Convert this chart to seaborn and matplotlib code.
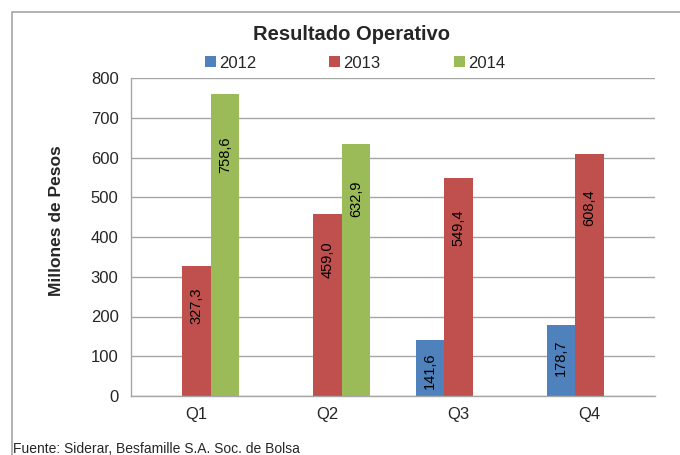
import numpy as np
import pandas as pd
import matplotlib
matplotlib.use("Agg")
import matplotlib.pyplot as plt
from matplotlib.patches import Rectangle
import seaborn as sns

# --- data ---
quarters = ["Q1", "Q2", "Q3", "Q4"]
years = ["2012", "2013", "2014"]
v2012 = [np.nan, np.nan, 141.6, 178.7]
v2013 = [327.3, 459.0, 549.4, 608.4]
v2014 = [758.6, 632.9, np.nan, np.nan]
colors = ["#4F81BD", "#C0504D", "#9BBB59"]

df = pd.DataFrame({
    "quarter": quarters * 3,
    "year": [y for y in years for _ in quarters],
    "value": v2012 + v2013 + v2014,
})

sns.set_style("white")
plt.rcParams["font.family"] = ["Liberation Sans", "DejaVu Sans"]

fig = plt.figure(figsize=(6.8, 4.55), dpi=100)
ax = fig.add_axes([131 / 680, 59 / 455, 524 / 680, 318 / 455])

sns.barplot(data=df, x="quarter", y="value", hue="year", hue_order=years,
            palette=colors, width=0.65, errorbar=None, saturation=1,
            linewidth=0, ax=ax, legend=True)

# value labels, rotated, inside the top of each bar
for cont in ax.containers:
    for bar in cont:
        h = bar.get_height()
        if not np.isfinite(h) or h <= 0:
            continue
        ax.text(bar.get_x() + bar.get_width() / 2, h * 0.88 - 15,
                f"{h:.1f}".replace(".", ","), rotation=90,
                ha="center", va="top", fontsize=10.5, color="black")

ax.set_ylim(0, 800)
ax.set_yticks(range(0, 801, 100))
ax.set_xlabel("")
ax.set_ylabel("")
ax.tick_params(axis="y", labelsize=12, length=5, color="#A6A6A6", pad=4)
ax.tick_params(axis="x", labelsize=12, length=0, pad=8)
ax.set_xticks([-0.5, 0.5, 1.5, 2.5, 3.5], minor=True)
ax.tick_params(axis="x", which="minor", length=5, color="#A6A6A6")

ax.yaxis.grid(True, color="#A6A6A6", linewidth=1)
ax.set_axisbelow(True)
for side in ["top", "right"]:
    ax.spines[side].set_visible(False)
for side in ["left", "bottom"]:
    ax.spines[side].set_color("#A6A6A6")
    ax.spines[side].set_linewidth(1)

handles, labels = ax.get_legend_handles_labels()
ax.legend(handles, labels, loc="center", bbox_to_anchor=(355 / 680, 1 - 63 / 455),
          bbox_transform=fig.transFigure, ncol=3, frameon=False, fontsize=12,
          handlelength=0.65, handleheight=0.65, handletextpad=0.2, columnspacing=4.4)

fig.text(351 / 680, 1 - 35 / 455, "Resultado Operativo", ha="center", va="center",
         fontsize=14.5, fontweight="bold")
fig.text(57 / 680, 1 - 221 / 455, "Millones de Pesos", rotation=90, ha="center",
         va="center", fontsize=12.5, fontweight="bold")
fig.text(13 / 680, 1 - 442 / 455, "Fuente: Siderar, Besfamille S.A. Soc. de Bolsa",
         ha="left", va="top", fontsize=10)

# chart border
fig.patches.append(Rectangle((12 / 680, -0.1), 1.0, (455 - 12) / 455 + 0.1,
                             fill=False, edgecolor="#A6A6A6", linewidth=1.2,
                             transform=fig.transFigure))

fig.savefig("out.png", dpi=100)
